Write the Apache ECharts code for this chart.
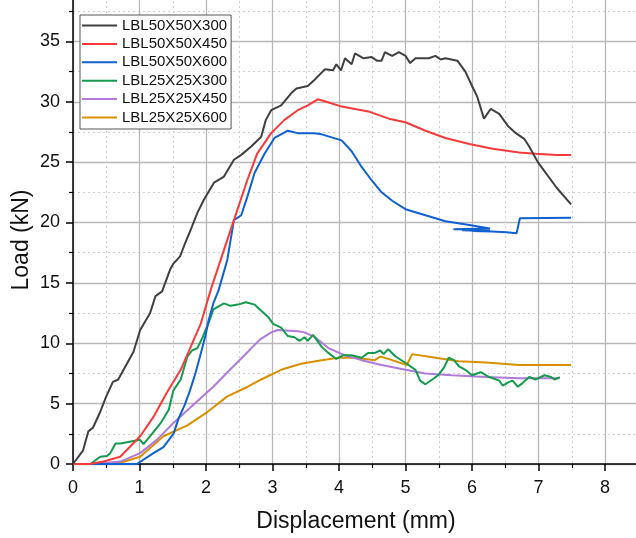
<!DOCTYPE html>
<html>
<head>
<meta charset="utf-8">
<script src="https://cdn.jsdelivr.net/npm/echarts@6/dist/echarts.min.js"></script>
<style>html,body{margin:0;padding:0;background:#fff;}#c{width:636px;height:538px;}</style>
</head>
<body>
<div id="c"></div>
<script>
// ---- data ----
const seriesNames = ["LBL50X50X300","LBL50X50X450","LBL50X50X600","LBL25X25X300","LBL25X25X450","LBL25X25X600"];
const xTickLabels = [0,1,2,3,4,5,6,7,8];
const yTickLabels = [0,5,10,15,20,25,30,35];

const lbl50x50x300 = [[0,0],[0.15,1.1],[0.23,2.7],[0.30,3.0],[0.40,4.2],[0.50,5.6],[0.60,6.8],[0.68,7.0],[0.81,8.3],[0.91,9.3],[1.01,11.1],[1.16,12.5],[1.24,13.9],[1.34,14.3],[1.46,16.1],[1.51,16.6],[1.61,17.2],[1.68,18.2],[1.77,19.4],[1.87,20.8],[1.97,21.9],[2.12,23.3],[2.27,23.8],[2.42,25.2],[2.53,25.6],[2.68,26.3],[2.83,27.1],[2.90,28.5],[2.98,29.3],[3.13,29.7],[3.28,30.7],[3.36,31.1],[3.53,31.3],[3.63,31.8],[3.79,32.7],[3.91,32.6],[3.96,33.1],[4.03,32.6],[4.09,33.6],[4.19,33.1],[4.24,34.0],[4.37,33.6],[4.49,33.7],[4.57,33.4],[4.64,33.4],[4.69,34.1],[4.80,33.8],[4.90,34.1],[5.0,33.8],[5.07,33.2],[5.15,33.6],[5.35,33.6],[5.45,33.8],[5.53,33.5],[5.60,33.6],[5.78,33.4],[5.90,32.5],[6.01,31.2],[6.08,30.4],[6.18,28.6],[6.28,29.4],[6.41,29.0],[6.54,28.0],[6.66,27.4],[6.79,26.9],[6.86,26.3],[6.99,25.0],[7.27,22.9],[7.49,21.5]];
const lbl50x50x450 = [[0,0],[0.25,0],[0.46,0.2],[0.71,0.6],[1.01,2.3],[1.21,3.9],[1.41,5.9],[1.62,7.8],[1.77,9.7],[1.92,11.6],[2.07,14.4],[2.22,16.9],[2.42,20.2],[2.62,23.5],[2.77,25.7],[2.98,27.4],[3.18,28.5],[3.38,29.3],[3.53,29.7],[3.68,30.2],[3.81,30.0],[4.04,29.6],[4.44,29.2],[4.75,28.6],[5.0,28.3],[5.30,27.6],[5.60,27.0],[5.96,26.5],[6.31,26.1],[6.71,25.8],[6.96,25.7],[7.27,25.6],[7.49,25.6]];
const lbl50x50x600 = [[0,0],[0.96,0],[1.21,0.9],[1.36,1.4],[1.51,2.5],[1.59,3.8],[1.68,4.9],[1.76,6.1],[1.84,7.5],[1.91,8.9],[1.99,10.6],[2.04,11.9],[2.11,13.3],[2.19,14.4],[2.32,16.9],[2.42,20.2],[2.53,20.6],[2.62,22.1],[2.73,24.1],[2.88,25.7],[3.03,27.0],[3.23,27.6],[3.38,27.4],[3.63,27.4],[3.74,27.3],[4.04,26.8],[4.19,25.9],[4.34,24.6],[4.49,23.5],[4.64,22.5],[4.80,21.8],[5.0,21.1],[5.30,20.6],[5.60,20.1],[5.96,19.8],[6.27,19.5],[5.72,19.45],[6.27,19.4],[5.85,19.35],[6.20,19.3],[6.0,19.3],[6.30,19.25],[6.52,19.2],[6.67,19.1],[6.72,20.35],[7.49,20.4]];
const lbl25x25x300 = [[0,0],[0.26,0],[0.41,0.6],[0.51,0.66],[0.56,0.9],[0.64,1.7],[0.71,1.7],[0.91,1.9],[1.01,2.0],[1.06,1.65],[1.16,2.3],[1.32,3.4],[1.44,4.5],[1.51,6.1],[1.62,7.0],[1.72,8.9],[1.79,9.4],[1.87,9.6],[1.95,10.5],[2.04,11.7],[2.11,12.8],[2.17,13.0],[2.27,13.3],[2.37,13.1],[2.48,13.2],[2.60,13.4],[2.73,13.2],[2.83,12.7],[2.93,12.2],[3.01,11.6],[3.13,11.3],[3.23,10.6],[3.33,10.5],[3.41,10.2],[3.48,10.5],[3.53,10.2],[3.61,10.7],[3.74,9.7],[3.84,9.2],[3.96,8.7],[4.06,9.0],[4.19,9.0],[4.34,8.8],[4.44,9.2],[4.54,9.2],[4.62,9.4],[4.67,9.1],[4.74,9.5],[4.85,8.9],[5.02,8.3],[5.15,7.8],[5.22,6.9],[5.30,6.6],[5.43,7.1],[5.50,7.4],[5.58,8.0],[5.65,8.8],[5.73,8.6],[5.80,8.1],[5.90,7.8],[6.0,7.35],[6.13,7.6],[6.26,7.2],[6.41,6.9],[6.46,6.5],[6.56,6.8],[6.61,6.9],[6.69,6.4],[6.76,6.7],[6.86,7.2],[6.96,7.0],[7.09,7.35],[7.19,7.2],[7.24,7.0],[7.32,7.2]];
const lbl25x25x450 = [[0,0],[0.3,0],[0.71,0.2],[1.01,0.9],[1.26,2.0],[1.51,3.4],[1.81,4.9],[2.11,6.4],[2.36,7.8],[2.56,8.9],[2.81,10.3],[2.98,10.9],[3.08,11.1],[3.38,11.0],[3.48,10.9],[3.64,10.5],[3.84,9.6],[4.09,9.0],[4.34,8.6],[4.64,8.2],[5.0,7.8],[5.30,7.5],[5.70,7.35],[6.21,7.2],[6.71,7.1],[7.32,7.1]];
const lbl25x25x600 = [[0,0],[0.5,0],[0.71,0.1],[1.01,0.6],[1.36,2.3],[1.72,3.2],[2.02,4.3],[2.32,5.6],[2.63,6.4],[2.83,7.0],[3.13,7.8],[3.43,8.3],[3.74,8.6],[3.99,8.8],[4.24,8.8],[4.54,8.6],[4.62,8.9],[4.80,8.6],[5.02,8.2],[5.10,9.1],[5.45,8.8],[5.80,8.5],[6.21,8.4],[6.71,8.2],[7.49,8.2]];

const seriesData = [lbl50x50x300, lbl50x50x450, lbl50x50x600, lbl25x25x300, lbl25x25x450, lbl25x25x600];
const colors = ["#404040","#f83a3a","#1060d0","#159a50","#b07ad8","#d99000"];

const chart = echarts.init(document.getElementById('c'), null, {renderer:'canvas'});
const axisFont = {fontFamily:'Liberation Sans, Arial, sans-serif', fontSize:18, color:'#111'};
chart.setOption({
  animation:false,
  backgroundColor:'#fff',
  color: colors,
  grid:{left:73, top:-19, width:598.5, height:483, containLabel:false, outerBoundsMode:'none'},
  legend:{
    orient:'vertical', left:80, top:15,
    padding:[3,4,4,2],
    icon:'rect',
    itemWidth:35, itemHeight:2, itemGap:3.4,
    borderColor:'#555', borderWidth:1, backgroundColor:'#fff',
    textStyle:{fontFamily:'Liberation Sans, Arial, sans-serif', fontSize:15, lineHeight:15, color:'#111'},
    data: seriesNames
  },
  xAxis:{
    type:'value', min:0, max:9, interval:1,
    axisLine:{lineStyle:{color:'#000', width:1.5}},
    axisTick:{show:true, length:7, lineStyle:{color:'#000', width:1.5}},
    minorTick:{show:true, splitNumber:2, length:4, lineStyle:{color:'#000', width:1.2}},
    splitLine:{show:true, lineStyle:{color:'#b8b8b8', width:1.3}},
    minorSplitLine:{show:true, lineStyle:{color:'#cfcfcf', width:1, type:[2,3]}},
    axisLabel:{...axisFont, margin:15, formatter: v => xTickLabels.includes(v) ? String(v) : ''}
  },
  yAxis:{
    type:'value', min:0, max:40, interval:5,
    axisLine:{lineStyle:{color:'#000', width:1.5}},
    axisTick:{show:true, length:7, lineStyle:{color:'#000', width:1.5}},
    minorTick:{show:true, splitNumber:2, length:4, lineStyle:{color:'#000', width:1.2}},
    splitLine:{show:true, lineStyle:{color:'#b8b8b8', width:1.3}},
    minorSplitLine:{show:true, lineStyle:{color:'#cfcfcf', width:1, type:[2,3]}},
    axisLabel:{...axisFont, margin:13, formatter: v => yTickLabels.includes(v) ? String(v) : ''}
  },
  graphic:[
    {type:'text', x:356, y:522, style:{text:'Displacement (mm)', fontFamily:'Liberation Sans, Arial, sans-serif', fontSize:23, fill:'#111', textAlign:'center', textVerticalAlign:'middle'}},
    {type:'text', x:22, y:240, rotation:Math.PI/2, style:{text:'Load (kN)', fontFamily:'Liberation Sans, Arial, sans-serif', fontSize:23, fill:'#111', textAlign:'center', textVerticalAlign:'middle'}}
  ],
  series: seriesNames.map((n,i)=>({
    name:n, type:'line', data:seriesData[i], symbol:'none', showSymbol:false,
    lineStyle:{width:2, color:colors[i]}, itemStyle:{color:colors[i]}, clip:true, z:10-i
  }))
});
</script>
</body>
</html>
